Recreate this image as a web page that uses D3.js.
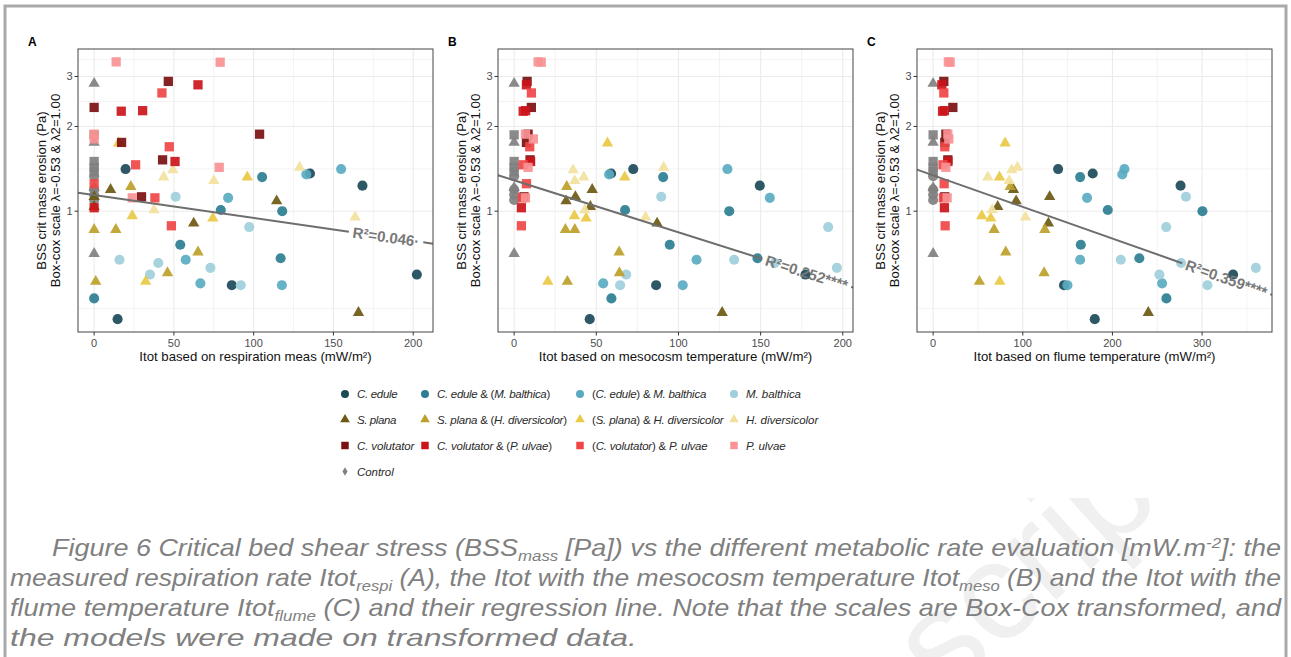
<!DOCTYPE html>
<html>
<head>
<meta charset="utf-8">
<script src="https://cdn.jsdelivr.net/npm/d3@7"></script>
<style>
  body { margin: 0; background: #fff; }
  svg { display: block; font-family: "Liberation Sans", Arial, sans-serif; }
</style>
</head>
<body>
<svg width="1291" height="657"></svg>
<script>
const root = d3.select("svg");
const width = +root.attr("width");
const height = +root.attr("height");

// ---- groups ----
const groupKeys = ["ce", "ceMb", "cEMb", "mb", "sp", "spHd", "sPHd", "hd", "cv", "cvPu", "cVPu", "pu", "ctrl"];
const groupLabels = [
  "C. edule", "C. edule & (M. balthica)", "(C. edule) & M. balthica", "M. balthica",
  "S. plana", "S. plana & (H. diversicolor)", "(S. plana) & H. diversicolor", "H. diversicolor",
  "C. volutator", "C. volutator & (P. ulvae)", "(C. volutator) & P. ulvae", "P. ulvae",
  "Control"
];
const groupColors = [
  "#1c4a59", "#2c7f93", "#5aabc1", "#9fcfdc",
  "#6c5912", "#bda02a", "#eac944", "#f2e19c",
  "#7b0f11", "#cc151a", "#f04545", "#f99395",
  "#808080"
];
const groupShapes = [
  "circle", "circle", "circle", "circle",
  "triangle", "triangle", "triangle", "triangle",
  "square", "square", "square", "square",
  "diamond"
];

// ---- observations (same cores in the three panels) ----
const obsGroup = [
  "ctrl", "ctrl", "ctrl", "ctrl", "ctrl", "ctrl", "ctrl", "ctrl", "ctrl", "ctrl", "ctrl", "ctrl",
  "ce", "ce", "ce", "ce", "ce", "ce",
  "ceMb", "ceMb", "ceMb", "ceMb", "ceMb", "ceMb",
  "cEMb", "cEMb", "cEMb", "cEMb", "cEMb", "cEMb",
  "mb", "mb", "mb", "mb", "mb", "mb", "mb",
  "sp", "sp", "sp", "sp", "sp", "sp",
  "spHd", "spHd", "spHd", "spHd", "spHd", "spHd",
  "sPHd", "sPHd", "sPHd", "sPHd", "sPHd",
  "hd", "hd", "hd", "hd", "hd", "hd",
  "cv", "cv", "cv", "cv", "cv", "cv",
  "cvPu", "cvPu", "cvPu", "cvPu", "cvPu",
  "cVPu", "cVPu", "cVPu", "cVPu", "cVPu", "cVPu",
  "pu", "pu", "pu", "pu", "pu", "pu"
];
// controls keep the shape of the fauna type they belong to
const controlShape = [
  "triangle", "triangle", "triangle", "triangle",
  "square", "square", "square", "square",
  "circle", "circle", "circle", "circle"
];

// BSS crit mass erosion (Pa)
const bss = [
  2.83, 1.76, 1.22, 0.68, 1.87, 1.51, 1.44, 1.39, 1.34, 1.20, 1.15, 1.10,
  1.42, 1.37, 1.24, 0.55, 0.49, 0.32,
  1.33, 1.01, 1.00, 0.74, 0.65, 0.42,
  1.42, 1.36, 1.12, 0.64, 0.50, 0.49,
  1.13, 0.87, 0.64, 0.62, 0.59, 0.55, 0.49,
  1.20, 1.13, 1.09, 1.04, 0.90, 0.35,
  1.23, 0.85, 0.85, 0.69, 0.56, 0.51,
  1.75, 1.33, 0.96, 0.94, 0.51,
  1.44, 1.41, 1.33, 1.29, 1.01, 0.95,
  2.88, 2.33, 1.88, 1.76, 1.53, 1.13,
  2.80, 2.27, 2.26, 1.51, 1.03,
  2.62, 1.70, 1.47, 1.26, 1.12, 0.88,
  3.39, 3.38, 1.88, 1.81, 1.44, 1.12
];

// Itot based on respiration meas (mW/m2)
const itotRespi = [
  0, 0, 0, 0, 0, 0, 0, 0, 0, 0, 0, 0,
  19.7, 135.3, 168.2, 202.3, 86.3, 14.7,
  105.3, 79.4, 117.9, 54, 116.9, 0,
  154.8, 133, 84, 57.4, 66.6, 117.7,
  51.1, 97.2, 15.9, 40.2, 72.9, 35, 91.9,
  10.3, 0, 114.4, 0, 62.4, 165.7,
  23, 0, 13.6, 65.1, 46, 1,
  15.3, 96, 23.9, 74.4, 32.3,
  128.8, 49.4, 43.6, 75, 37.5, 163.6,
  46.5, 0, 103.7, 17.2, 42.9, 29.7,
  65.1, 30.4, 17, 50.7, 0,
  42.5, 47.1, 26, 0, 38.1, 48.4,
  13.8, 79, 0, 0, 78.4, 23.9
];

// Itot based on mesocosm temperature (mW/m2)
const itotMeso = [
  0, 0, 0, 0, 0, 0, 0, 0, 0, 0, 0, 0,
  72.5, 59, 149.5, 177.3, 86.4, 46,
  90.7, 67.5, 130.9, 94.7, 148.1, 59.2,
  129.8, 57.8, 155.6, 111, 54.2, 102.6,
  89.5, 191.1, 133.9, 158.6, 196.4, 68.2, 64.5,
  47.5, 37.3, 31.6, 46.4, 87, 126.6,
  32, 31.2, 36.9, 63.9, 64.1, 32.4,
  56.8, 67.3, 36.7, 43.8, 20.5,
  91, 35.9, 42.4, 36.9, 43, 80,
  7.9, 10.5, 8.5, 7.5, 9.7, 6,
  7.5, 7, 5.5, 10, 4.4,
  10.5, 9.5, 5.5, 7.5, 5, 4.4,
  14.6, 16.5, 6.9, 11.7, 8.5, 6.9
];

// Itot based on flume temperature (mW/m2)
const itotFlume = [
  0, 0, 0, 0, 0, 0, 0, 0, 0, 0, 0, 0,
  139.4, 178, 276, 334.6, 146, 180.3,
  164, 194.8, 300.4, 164.7, 230, 260.2,
  213.4, 211, 171.7, 164, 255.4, 149.8,
  282, 260, 209.3, 276.6, 360, 252.4, 306,
  89.6, 130, 92.6, 72, 128.6, 240,
  86, 68, 124.6, 81, 123.8, 51.6,
  80.3, 74, 54.3, 64.3, 74.3,
  94, 87.7, 61, 84.8, 65.8, 103,
  11.9, 22, 14.2, 13, 16.4, 13,
  9.7, 12.5, 10.5, 16.5, 12.6,
  11.9, 13, 11, 12.3, 11.5, 13.4,
  17, 19, 16.4, 17.5, 14.2, 15.6
];

// ---- panels ----
const panelTags = ["A", "B", "C"];
const panelXTitles = [
  "Itot based on respiration meas (mW/m²)",
  "Itot based on mesocosm temperature (mW/m²)",
  "Itot based on flume temperature (mW/m²)"
];
const panelXTicks = [[0, 50, 100, 150, 200], [0, 50, 100, 150, 200], [0, 100, 200, 300]];
const yBreaks = [0, 1, 2, 3, 4];
const yTickLabels = [1, 2, 3];

// linear models on Box-Cox transformed BSS
const fitIntercept = [0.628, 0.672, 0.687];
const fitSlope = [-0.000682, -0.00155, -0.000943];
const fitLabels = ["R²=0.046·", "R²=0.252****", "R²=0.359****"];
const fitLabelAt = [183, 178, 327];

const captionLines = [
  [["Figure 6 Critical bed shear stress (BSS", "n"], ["mass", "sub"], [" [Pa]) vs the different metabolic rate evaluation [mW.m", "n"], ["-2", "sup"], ["]: the", "n"]],
  [["measured respiration rate Itot", "n"], ["respi", "sub"], [" (A), the Itot with the mesocosm temperature Itot", "n"], ["meso", "sub"], [" (B) and the Itot with the", "n"]],
  [["flume temperature Itot", "n"], ["flume", "sub"], [" (C) and their regression line. Note that the scales are Box-Cox transformed, and", "n"]],
  [["the models were made on transformed data.", "n"]]
];

const layout = {
  panelLeft: [78, 498, 917],
  panelWidth: 355,
  top: 49,
  bottom: 332,
  legendRows: [394, 419.5, 445.5, 471.5],
  legendSymbolX: [345, 425, 580, 734],
  legendTextWidth: [40.7, 113.3, 114.3, 55, 39.3, 130, 131.7, 72.3, 57.3, 115, 115.7, 39.7, 36.7],
  captionX: [52, 10, 10, 10],
  captionLength: [1229, 1271, 1271, 627],
  captionY: [556, 586, 616, 646]
};

const lambda1 = -0.53;
const lambda2 = 1.0;
const boxCox = (v) => (Math.pow(v + lambda2, lambda1) - 1) / lambda1;

const rows = obsGroup.map((g, i) => {
  const gi = groupKeys.indexOf(g);
  return {
    color: groupColors[gi],
    shape: g === "ctrl" ? controlShape[i] : groupShapes[gi],
    bss: bss[i],
    x: [itotRespi[i], itotMeso[i], itotFlume[i]]
  };
});

const symbolTypes = {
  circle: d3.symbolCircle,
  triangle: d3.symbolTriangle,
  square: d3.symbolSquare,
  diamond: d3.symbolDiamond
};
const pointSize = { circle: 80, triangle: 56, square: 86, diamond: 40 };
const legendSize = { circle: 50, triangle: 40, square: 56, diamond: 22 };

// ---- background, watermark, frame ----
root.append("rect").attr("width", width).attr("height", height).attr("fill", "#fff");
root.append("text")
  .attr("transform", "translate(945,700) rotate(-42)")
  .attr("font-size", 140)
  .attr("fill", "#f0f0f0")
  .text("script");
root.append("rect")
  .attr("x", 7).attr("y", 8).attr("width", 1278).attr("height", 490)
  .attr("fill", "#fff");
root.append("rect")
  .attr("x", 5).attr("y", 6).attr("width", 1281).attr("height", 700)
  .attr("fill", "none").attr("stroke", "#a9a9a9").attr("stroke-width", 3);

// ---- y scale (Box-Cox space, 5% expansion) ----
const tExtent = d3.extent(bss, boxCox);
const tPad = (tExtent[1] - tExtent[0]) * 0.05;
const yT = d3.scaleLinear()
  .domain([tExtent[0] - tPad, tExtent[1] + tPad])
  .range([layout.bottom, layout.top]);
const yScale = (v) => yT(boxCox(v));
const tDomain = yT.domain();
const inT = (t) => t >= tDomain[0] && t <= tDomain[1];

const yMajorT = yBreaks.map(boxCox);
const yMinorT = d3.range(yMajorT.length - 1).map((k) => (yMajorT[k] + yMajorT[k + 1]) / 2);

panelTags.forEach((tag, i) => {
  const left = layout.panelLeft[i];
  const right = left + layout.panelWidth;
  const xs = rows.map((r) => r.x[i]);
  const [lo, hi] = d3.extent(xs);
  const pad = (hi - lo) * 0.05;
  const xScale = d3.scaleLinear().domain([lo - pad, hi + pad]).range([left, right]);
  const xDom = xScale.domain();

  const ticks = panelXTicks[i];
  const step = ticks[1] - ticks[0];
  const xMinor = d3.range(ticks[0] - step / 2, ticks[ticks.length - 1] + step, step)
    .filter((v) => v >= xDom[0] && v <= xDom[1]);

  const g = root.append("g").attr("class", "panel-" + tag);

  // grid
  const grid = g.append("g");
  grid.selectAll(".minor-x").data(xMinor).enter().append("line")
    .attr("x1", (d) => xScale(d)).attr("x2", (d) => xScale(d))
    .attr("y1", layout.top).attr("y2", layout.bottom)
    .attr("stroke", "#ebebeb").attr("stroke-width", 0.6);
  grid.selectAll(".minor-y").data(yMinorT.filter(inT)).enter().append("line")
    .attr("x1", left).attr("x2", right)
    .attr("y1", (d) => yT(d)).attr("y2", (d) => yT(d))
    .attr("stroke", "#ebebeb").attr("stroke-width", 0.6);
  grid.selectAll(".major-x").data(ticks).enter().append("line")
    .attr("x1", (d) => xScale(d)).attr("x2", (d) => xScale(d))
    .attr("y1", layout.top).attr("y2", layout.bottom)
    .attr("stroke", "#ebebeb").attr("stroke-width", 1.1);
  grid.selectAll(".major-y").data(yMajorT.filter(inT)).enter().append("line")
    .attr("x1", left).attr("x2", right)
    .attr("y1", (d) => yT(d)).attr("y2", (d) => yT(d))
    .attr("stroke", "#ebebeb").attr("stroke-width", 1.1);

  // points
  g.append("g").selectAll("path").data(rows).enter().append("path")
    .attr("transform", (d) => `translate(${xScale(d.x[i])},${yScale(d.bss)})`)
    .attr("d", (d) => d3.symbol().type(symbolTypes[d.shape]).size(pointSize[d.shape])())
    .attr("fill", (d) => d.color)
    .attr("fill-opacity", 0.92);

  // regression line with label on it
  const fitY = (x) => yT(fitIntercept[i] + fitSlope[i] * x);
  const p0 = [xScale(xDom[0]), fitY(xDom[0])];
  const p1 = [xScale(xDom[1]), fitY(xDom[1])];
  const angle = Math.atan2(p1[1] - p0[1], p1[0] - p0[0]);
  const ux = Math.cos(angle);
  const uy = Math.sin(angle);
  const lineLen = Math.hypot(p1[0] - p0[0], p1[1] - p0[1]);
  const lc = [xScale(fitLabelAt[i]), fitY(fitLabelAt[i])];
  const distC = (lc[0] - p0[0]) / ux;

  const fitG = g.append("g");
  const label = fitG.append("text")
    .attr("transform", `translate(${lc[0]},${lc[1]}) rotate(${angle * 180 / Math.PI})`)
    .attr("text-anchor", "middle")
    .attr("dy", "0.35em")
    .attr("font-size", 15)
    .attr("font-weight", "bold")
    .attr("fill", "#787878")
    .text(fitLabels[i]);
  const half = label.node().getComputedTextLength() / 2 + 4;
  const segs = [[0, distC - half], [distC + half, lineLen]].filter((s) => s[1] > s[0]);
  fitG.selectAll("line").data(segs).enter().insert("line", "text")
    .attr("x1", (s) => p0[0] + s[0] * ux).attr("y1", (s) => p0[1] + s[0] * uy)
    .attr("x2", (s) => p0[0] + s[1] * ux).attr("y2", (s) => p0[1] + s[1] * uy)
    .attr("stroke", "#6e6e6e").attr("stroke-width", 2);

  // border
  g.append("rect")
    .attr("x", left).attr("y", layout.top)
    .attr("width", layout.panelWidth).attr("height", layout.bottom - layout.top)
    .attr("fill", "none").attr("stroke", "#444").attr("stroke-width", 1);

  // x axis
  const xAxis = g.append("g");
  xAxis.selectAll("line").data(ticks).enter().append("line")
    .attr("x1", (d) => xScale(d)).attr("x2", (d) => xScale(d))
    .attr("y1", layout.bottom).attr("y2", layout.bottom + 3.5)
    .attr("stroke", "#333");
  xAxis.selectAll("text").data(ticks).enter().append("text")
    .attr("x", (d) => xScale(d)).attr("y", layout.bottom + 15)
    .attr("text-anchor", "middle").attr("font-size", 11).attr("fill", "#4d4d4d")
    .text((d) => d);
  g.append("text")
    .attr("x", (left + right) / 2).attr("y", 361)
    .attr("text-anchor", "middle").attr("font-size", 13.2).attr("fill", "#111")
    .text(panelXTitles[i]);

  // y axis
  const yAxis = g.append("g");
  yAxis.selectAll("line").data(yTickLabels).enter().append("line")
    .attr("x1", left - 3.5).attr("x2", left)
    .attr("y1", (d) => yScale(d)).attr("y2", (d) => yScale(d))
    .attr("stroke", "#333");
  yAxis.selectAll("text").data(yTickLabels).enter().append("text")
    .attr("x", left - 5.5).attr("y", (d) => yScale(d))
    .attr("dy", "0.35em")
    .attr("text-anchor", "end").attr("font-size", 11).attr("fill", "#4d4d4d")
    .text((d) => d);
  const yMid = (layout.top + layout.bottom) / 2;
  [["BSS crit mass erosion (Pa)", 36.3], ["Box-cox scale λ=-0.53 & λ2=1.00", 22.2]].forEach(([txt, off]) => {
    g.append("text")
      .attr("transform", `translate(${left - off},${yMid}) rotate(-90)`)
      .attr("dy", "0.35em")
      .attr("text-anchor", "middle").attr("font-size", 13.2).attr("fill", "#111")
      .text(txt);
  });

  // tag
  g.append("text")
    .attr("x", left - 50).attr("y", 46)
    .attr("font-size", 12).attr("font-weight", "bold")
    .text(tag);
});

// ---- legend ----
const legend = root.append("g").attr("class", "legend");
groupKeys.forEach((key, k) => {
  const rowIdx = Math.floor(k / 4);
  const colIdx = k % 4;
  const cx = layout.legendSymbolX[colIdx];
  const cy = layout.legendRows[rowIdx];
  const shape = groupShapes[k];
  legend.append("path")
    .attr("transform", `translate(${cx},${cy})`)
    .attr("d", d3.symbol().type(symbolTypes[shape]).size(legendSize[shape])())
    .attr("fill", groupColors[k]);
  const t = legend.append("text")
    .attr("x", cx + 12).attr("y", cy + 4)
    .attr("font-size", 11.5).attr("fill", "#2a2a2a")
    .attr("textLength", layout.legendTextWidth[k])
    .attr("lengthAdjust", "spacing");
  groupLabels[k].split(/([()&])/).filter((s) => s !== "").forEach((part) => {
    t.append("tspan")
      .attr("font-style", /^[()&]$/.test(part) ? "normal" : "italic")
      .text(part);
  });
});

// ---- caption ----
const caption = root.append("g").attr("class", "caption");
captionLines.forEach((parts, li) => {
  const t = caption.append("text")
    .attr("x", layout.captionX[li]).attr("y", layout.captionY[li])
    .attr("font-size", 24).attr("font-style", "italic").attr("fill", "#808080")
    .attr("textLength", layout.captionLength[li])
    .attr("lengthAdjust", "spacingAndGlyphs");
  let shift = 0;
  parts.forEach(([txt, kind]) => {
    const target = kind === "sub" ? 5 : kind === "sup" ? -8 : 0;
    t.append("tspan")
      .attr("dy", target - shift)
      .attr("font-size", kind === "n" ? 24 : 15)
      .text(txt);
    shift = target;
  });
});
</script>
</body>
</html>
